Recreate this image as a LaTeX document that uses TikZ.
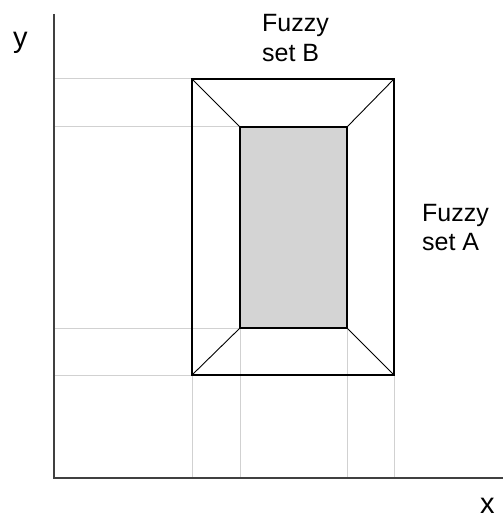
\documentclass[tikz,border=0pt]{standalone}
\usepackage{fontspec}
\setmainfont{Liberation Sans}
\begin{document}
\begin{tikzpicture}[x=1pt,y=-1pt,
  axis/.style={draw=black!75,line width=1.6pt},
  guide/.style={draw=black!18,line width=1pt},
  frame/.style={draw=black,line width=1.3pt},
  diag/.style={draw=black,line width=0.9pt},
  lbl/.style={anchor=base west,inner sep=0pt,font=\fontsize{25}{30}\selectfont},
  axlbl/.style={anchor=base west,inner sep=0pt,font=\fontsize{29}{34}\selectfont}]
\useasboundingbox (0,0) rectangle (503,518);
% coordinates
\coordinate (O) at (54,478);
\coordinate (Ytop) at (54,14);
\coordinate (Xend) at (503,478);
\coordinate (A1) at (192,79);  % outer top-left
\coordinate (A2) at (394,79);  % outer top-right
\coordinate (A3) at (394,375); % outer bottom-right
\coordinate (A4) at (192,375); % outer bottom-left
\coordinate (B1) at (240,127);
\coordinate (B2) at (347,127);
\coordinate (B3) at (347,328);
\coordinate (B4) at (240,328);
\coordinate (G1) at (54,79);
\coordinate (G2) at (54,127);
\coordinate (G3) at (54,328);
\coordinate (G4) at (54,375);
\coordinate (H1) at (192,478);
\coordinate (H2) at (240,478);
\coordinate (H3) at (347,478);
\coordinate (H4) at (394,478);
% guide lines
\draw[guide] (G1) -- (A1);
\draw[guide] (G2) -- (B1);
\draw[guide] (G3) -- (B4);
\draw[guide] (G4) -- (A4);
\draw[guide] (A4) -- (H1);
\draw[guide] (B4) -- (H2);
\draw[guide] (B3) -- (H3);
\draw[guide] (A3) -- (H4);
% shaded core
\fill[black!17] (B1) rectangle (B3);
% diagonals
\draw[diag] (A1) -- (B1);
\draw[diag] (A2) -- (B2);
\draw[diag] (A3) -- (B3);
\draw[diag] (A4) -- (B4);
% rectangles
\draw[frame] (B1) rectangle (B3);
\draw[frame] (A1) rectangle (A3);
% axes
\draw[axis] (Ytop) -- (O) -- (Xend);
% labels
\node[axlbl] (ylab) at (13,48) {y};
\node[axlbl] (xlab) at (480,513) {x};
\node[lbl] (b1) at (262,32) {Fuzzy};
\node[lbl] (b2) at (262,62) {set B};
\node[lbl] (a1) at (422,222) {Fuzzy};
\node[lbl] (a2) at (422,250) {set A};
\end{tikzpicture}
\end{document}
